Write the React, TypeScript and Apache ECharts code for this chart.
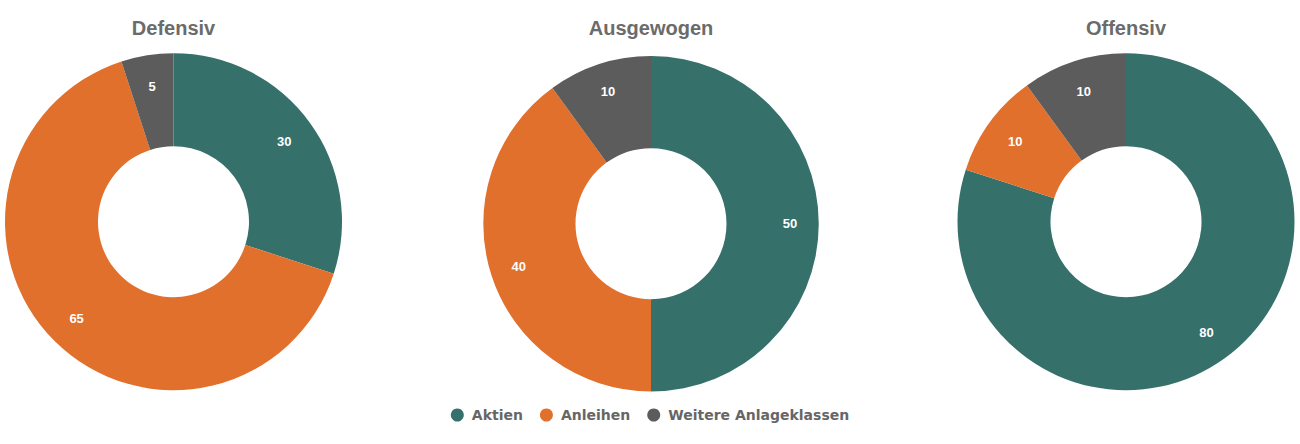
import React, { useEffect, useRef } from "react";
import * as echarts from "echarts";

const categories = ["Aktien", "Anleihen", "Weitere Anlageklassen"];
const colors = ["#35706b", "#e0702c", "#5c5c5c"];
const chartTitles = ["Defensiv", "Ausgewogen", "Offensiv"];
const defensivValues = [30, 65, 5];
const ausgewogenValues = [50, 40, 10];
const offensivValues = [80, 10, 10];

const allValues = [defensivValues, ausgewogenValues, offensivValues];
const layouts = [
  { cx: 173.5, cy: 221.7, r: 168.5, r0: 75.5, lr0: 100, lr: 168 },
  { cx: 651, cy: 223.7, r: 167.7, r0: 75.5, lr0: 104, lr: 168 },
  { cx: 1126, cy: 221.7, r: 168.5, r0: 75.5, lr0: 100, lr: 168 },
];

export default function App() {
  const ref = useRef<HTMLDivElement>(null);
  useEffect(() => {
    document.body.style.margin = "0";
    if (!ref.current) return;
    const chart = echarts.init(ref.current, undefined, { renderer: "svg" });
    const series: any[] = [];
    allValues.forEach((vals, i) => {
      const L = layouts[i];
      const data = categories.map((name, j) => ({
        name,
        value: vals[j],
        itemStyle: { color: colors[j] },
      }));
      series.push({
        type: "pie",
        center: [L.cx, L.cy],
        radius: [L.r0, L.r],
        startAngle: 90,
        clockwise: true,
        label: { show: false },
        labelLine: { show: false },
        emphasis: { disabled: true },
        data,
      });
    });
    allValues.forEach((vals, i) => {
      const L = layouts[i];
      const data = categories.map((name, j) => ({
        name,
        value: vals[j],
        itemStyle: { color: "rgba(0,0,0,0)" },
      }));
      series.push({
        type: "pie",
        center: [L.cx, L.cy],
        radius: [L.lr0, L.lr],
        startAngle: 90,
        clockwise: true,
        silent: true,
        label: {
          show: true,
          position: "inside",
          formatter: "{c}",
          color: "#ffffff",
          fontFamily: "Liberation Sans, Arial, sans-serif",
          fontWeight: "bold",
          fontSize: 13,
        },
        labelLine: { show: false },
        emphasis: { disabled: true },
        data,
      });
    });
    chart.setOption({
      animation: false,
      title: chartTitles.map((t, i) => ({
        text: t,
        left: layouts[i].cx,
        top: 18,
        padding: 0,
        textAlign: "center",
        textStyle: {
          fontFamily: "Liberation Sans, Arial, sans-serif",
          fontWeight: "bold",
          fontSize: 20,
          color: "#6b6b6b",
        },
      })),
      legend: {
        data: categories,
        left: "center",
        top: 403,
        icon: "circle",
        itemWidth: 13,
        itemHeight: 13,
        itemGap: 17,
        selectedMode: false,
        textStyle: {
          fontFamily: "DejaVu Sans, Verdana, sans-serif",
          fontWeight: "bold",
          fontSize: 14,
          color: "#666666",
          padding: [0, 0, 0, 3],
        },
      },
      series,
    });
    return () => chart.dispose();
  }, []);
  return <div ref={ref} style={{ width: 1300, height: 444 }} />;
}
